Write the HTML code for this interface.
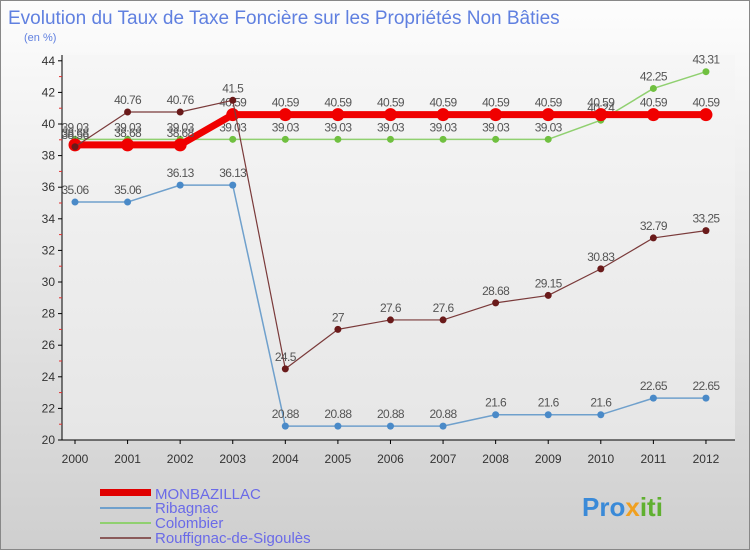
<!DOCTYPE html>
<html><head><meta charset="utf-8"><style>
body{margin:0;width:750px;height:550px;overflow:hidden;font-family:"Liberation Sans",sans-serif}
</style></head><body>
<svg width="750" height="550" xmlns="http://www.w3.org/2000/svg">
<defs>
<linearGradient id="bg" x1="0" y1="0" x2="0" y2="1"><stop offset="0" stop-color="#fdfdfd"/><stop offset="1" stop-color="#cfcfcf"/></linearGradient>
<linearGradient id="pbg" x1="0" y1="0" x2="0" y2="1"><stop offset="0" stop-color="#f6f6f6"/><stop offset="1" stop-color="#e6e6e6"/></linearGradient>
</defs>
<rect x="0.5" y="0.5" width="749" height="549" fill="url(#bg)" stroke="#888"/>
<rect x="62" y="55" width="673" height="385" fill="url(#pbg)"/>
<text x="8" y="24" font-size="19" fill="#6080e0">Evolution du Taux de Taxe Foncière sur les Propriétés Non Bâties</text>
<text x="24" y="41" font-size="11" fill="#6080e0">(en %)</text>
<g id="axes"></g>
<g id="series"></g>
<g>
<rect x="100" y="489" width="51" height="7" fill="#e00000"/>
<text x="155" y="499" font-size="15" fill="#6a6ae8">MONBAZILLAC</text>
<rect x="100" y="507" width="51" height="2" fill="#6fa0cc"/>
<text x="155" y="513" font-size="15" fill="#6a6ae8">Ribagnac</text>
<rect x="100" y="522" width="51" height="2" fill="#90d070"/>
<text x="155" y="528" font-size="15" fill="#6a6ae8">Colombier</text>
<rect x="100" y="537" width="51" height="2" fill="#8a5a5a"/>
<text x="155" y="543" font-size="15" fill="#6a6ae8">Rouffignac-de-Sigoulès</text>
</g>
<text x="582" y="516" font-size="26" font-weight="bold" fill="#3a8ad8">Pro<tspan fill="#f0a020">x</tspan><tspan fill="#60b030">iti</tspan></text>
</svg>
<script>
const years=["2000","2001","2002","2003","2004","2005","2006","2007","2008","2009","2010","2011","2012"];
const yTicks=[20,22,24,26,28,30,32,34,36,38,40,42,44];
const monbazillac=[38.68,38.68,38.68,40.59,40.59,40.59,40.59,40.59,40.59,40.59,40.59,40.59,40.59];
const ribagnac=[35.06,35.06,36.13,36.13,20.88,20.88,20.88,20.88,21.6,21.6,21.6,22.65,22.65];
const colombier=[39.03,39.03,39.03,39.03,39.03,39.03,39.03,39.03,39.03,39.03,40.24,42.25,43.31];
const rouffignac=[38.56,40.76,40.76,41.5,24.5,27,27.6,27.6,28.68,29.15,30.83,32.79,33.25];
const NS="http://www.w3.org/2000/svg";
const xs=i=>75+i*52.58;
const ys=v=>440-(v-20)*15.8;
function mk(t,a,p){const e=document.createElementNS(NS,t);for(const k in a)e.setAttribute(k,a[k]);p.appendChild(e);return e;}
const ax=document.getElementById('axes');
let l=mk('line',{x1:62,y1:55,x2:62,y2:440,stroke:'#000'},ax);


l=mk('line',{x1:62,y1:440,x2:735,y2:440,stroke:'#000'},ax);


yTicks.forEach(v=>{const y=ys(v);
 mk('line',{x1:58,y1:y,x2:62,y2:y,stroke:'#000'},ax);
 if(v<44)mk('line',{x1:59,y1:ys(v+1),x2:62,y2:ys(v+1),stroke:'#e03030'},ax);
 const t=mk('text',{x:55,y:y+4,'font-size':12,'text-anchor':'end',fill:'#333'},ax);t.textContent=v;
 
 });
years.forEach((yr,i)=>{const x=xs(i);
 mk('line',{x1:x,y1:440,x2:x,y2:444,stroke:'#000'},ax);
 const t=mk('text',{x:x,y:463,'font-size':12,'text-anchor':'middle',fill:'#333'},ax);t.textContent=yr;
 
 });
const sg=document.getElementById('series');
function series(name,data,col,w,r,dot,labels){
 const g=mk('g',{},sg);
 
 
 const p=mk('polyline',{points:data.map((v,i)=>xs(i)+','+ys(v)).join(' '),fill:'none',stroke:col,'stroke-width':w,'stroke-linejoin':'round'},g);
 
 
 data.forEach((v,i)=>{const c=mk('circle',{cx:xs(i),cy:ys(v),r:r,fill:dot},g);
  
  
  if(labels){const t=mk('text',{x:xs(i),y:ys(v)-8,'font-size':12,'text-anchor':'middle',fill:'#555','letter-spacing':'-0.6'},g);t.textContent=v;
  
  }});
}
series('ribagnac',ribagnac,'#6fa0cc',1.5,3.5,'#4a8ac8',true);
series('colombier',colombier,'#90d070',1.5,3.5,'#70c040',true);
series('monbazillac',monbazillac,'#f00000',7,6.5,'#f00000',true);
series('rouffignac',rouffignac,'#7a3a3a',1.2,3.5,'#6a1a1a',true);
</script>
</body></html>
